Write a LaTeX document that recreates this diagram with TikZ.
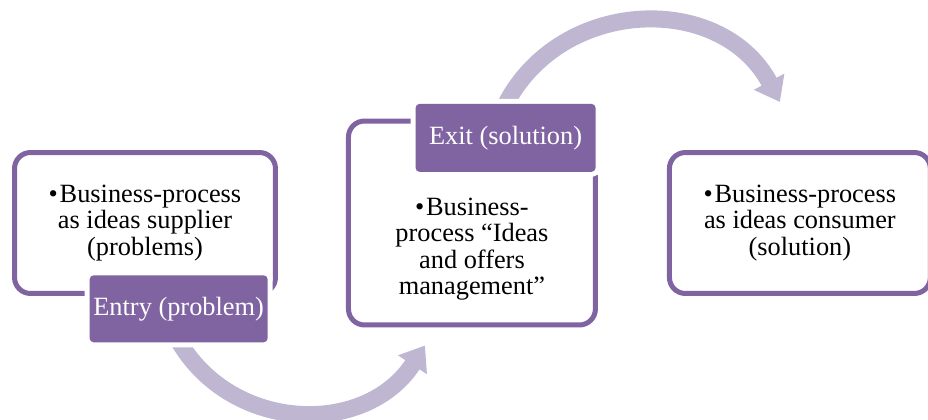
\documentclass[tikz,border=0pt]{standalone}
\usepackage{fontspec}
\setmainfont{Liberation Serif}
\usetikzlibrary{positioning,calc,arrows.meta,backgrounds}
\definecolor{boxpurple}{RGB}{128,100,162}
\definecolor{flowpurple}{RGB}{191,182,209}

\begin{document}
\begin{tikzpicture}[x=0.02cm, y=0.02cm, node distance=1.36cm, font=\fontsize{15}{15}\selectfont]
   \tikzstyle{flow} = [line width=0.34cm, color=flowpurple, -{Triangle[width=0.66cm,length=0.46cm]}]
   \tikzset{process/.style = {rectangle, draw=boxpurple, fill=white, line width=0.1cm, rounded corners=0.32cm, align=center, minimum width=5.22cm, minimum height=2.82cm}, }
   \tikzset{tag/.style = {rectangle, fill=boxpurple, text=white, rounded corners=0.08cm, inner sep=1pt, minimum width=3.56cm, minimum height=1.34cm, preaction={draw=white, line width=0.2cm}}, }
   \useasboundingbox (0,0) rectangle (928,419);
   \clip (0,0) rectangle (928,419);

   % the three processes
   \node[process] (P1) at (145,196) {•\hspace{1pt}Business-process\\as ideas supplier\\(problems)};
   \node[process, right =of P1, minimum width=4.94cm, minimum height=4.08cm] (P2) {};
   \node[process, right =1.38cm of P2] (P3) {•\hspace{1pt}Business-process\\as ideas consumer\\(solution)};
   \node[align=center] (P2text) at ($(P2.center)+(0,-26)$) {•\hspace{1pt}Business-\\process “Ideas\\and offers\\management”};

   % entry and exit tags
   \node[tag, anchor=north east] (Entry) at ($(P1.south east)+(-10,21)$) {Entry (problem)};
   \node[tag, anchor=north east, minimum width=3.6cm, minimum height=1.36cm] (Exit) at ($(P2.north east)+(-2,15)$) {Exit (solution)};

   % curved flows behind the boxes
   \begin{scope}[on background layer]
   \coordinate (a1) at ($(Entry.south)+(-3,7)$);
   \coordinate (a2) at ($(P2.south west)+(79,-18)$);
   \coordinate (b1) at ($(Exit.north)+(-3,-7)$);
   \coordinate (b2) at ($(P3.north west)+(113,48)$);
   \draw[flow] (a1) to[out=298, in=237, looseness=1.13] (a2);
   \draw[flow] (b1) to[out=65, in=118, looseness=1.16] (b2);
   \end{scope}
\end{tikzpicture}
\end{document}
